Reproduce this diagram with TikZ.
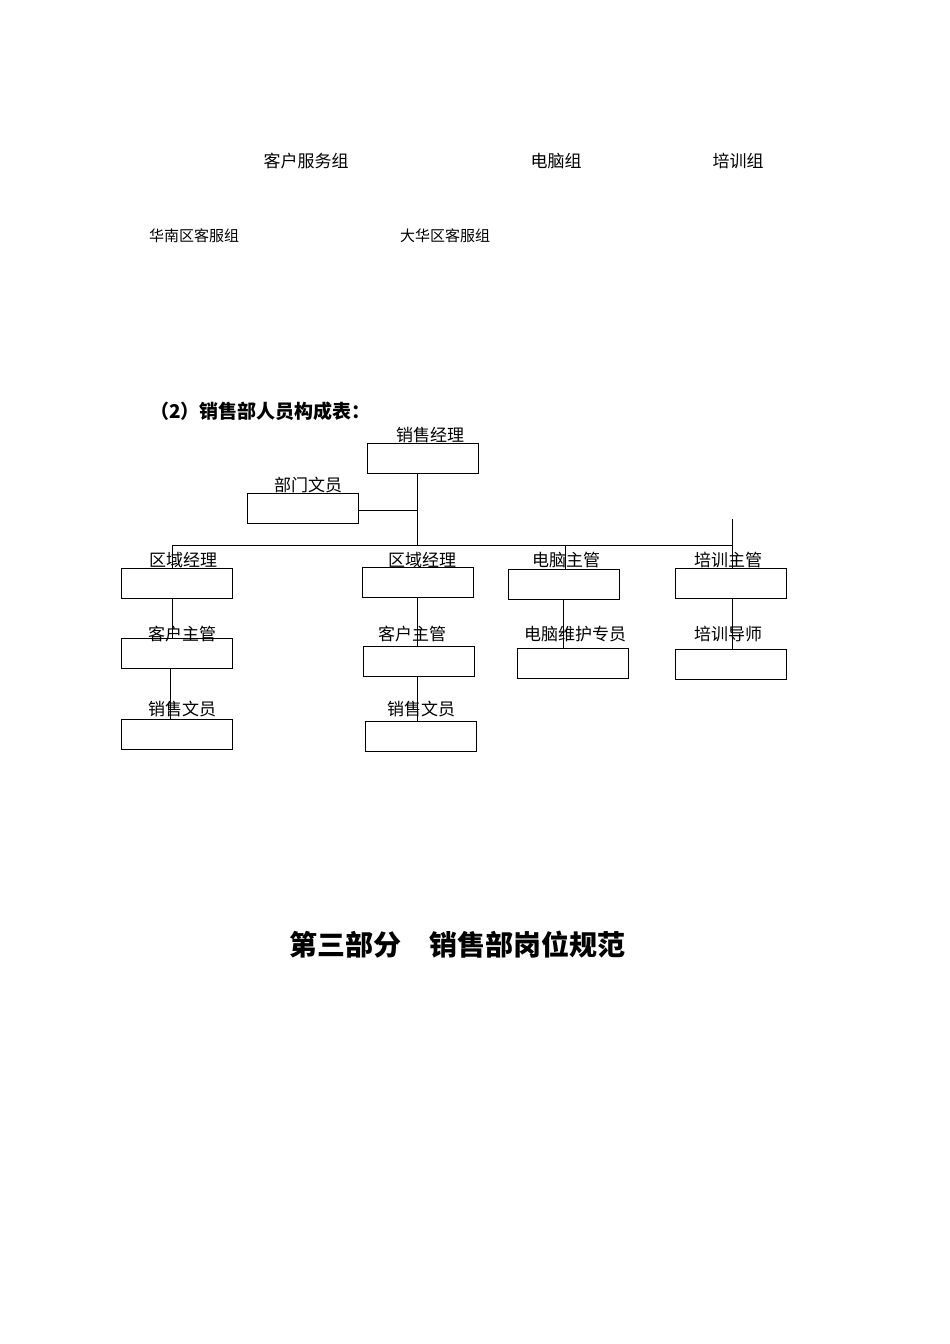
\documentclass[tikz,border=0pt]{standalone}
\usepackage{fontspec}
\setmainfont{Noto Sans CJK SC}
\usetikzlibrary{positioning}
\tikzset{
  post/.style={draw, minimum width=111pt, minimum height=30pt, inner sep=0pt},
  lbl/.style={font=\fontsize{17}{20}\selectfont, inner sep=0pt},
  small/.style={font=\fontsize{15}{18}\selectfont, inner sep=0pt},
  link/.style={line width=1pt}
}
\begin{document}
\begin{tikzpicture}[x=1pt,y=-1pt]
  \useasboundingbox (0,0) rectangle (950,1344);
  % leftover text from the previous chart
  \node[lbl] (kf) at (306,161) {客户服务组};
  \node[lbl] (dn) at (556,161) {电脑组};
  \node[lbl] (px) at (738,161) {培训组};
  \node[small] (hn) at (194,236) {华南区客服组};
  \node[small] (dh) at (445,236) {大华区客服组};
  \node[lbl, font=\fontsize{19}{22}\selectfont\bfseries, anchor=west] (head) at (150,411) {（2）销售部人员构成表：};

  % boxes
  \node[post] (mgr) at (422.5,458) {};
  \node[post] (clerk) at (303,508) {};
  \node[post] (ra1) at (176.5,583.5) {};
  \node[post] (ra2) at (418,582) {};
  \node[post] (pc) at (564,584.5) {};
  \node[post] (tr) at (730.5,583.5) {};
  \node[post] (cs1) at (176.5,653) {};
  \node[post] (cs2) at (419,661) {};
  \node[post] (pcm) at (572.5,663) {};
  \node[post] (trt) at (730.5,664) {};
  \node[post] (sc1) at (176.5,734) {};
  \node[post] (sc2) at (420.5,736) {};

  % labels
  \node[lbl] at (430,435) {销售经理};
  \node[lbl] at (308,485) {部门文员};
  \node[lbl] at (183,560) {区域经理};
  \node[lbl] at (422,560) {区域经理};
  \node[lbl] at (566,560) {电脑主管};
  \node[lbl] at (728,560) {培训主管};
  \node[lbl] at (182,634) {客户主管};
  \node[lbl] at (412,634) {客户主管};
  \node[lbl] at (575,634) {电脑维护专员};
  \node[lbl] at (728,634) {培训导师};
  \node[lbl] at (182,709) {销售文员};
  \node[lbl] at (421,709) {销售文员};

  % connectors
  \coordinate (hub) at (417,545);
  \coordinate (side) at (417,510);
  \coordinate (west) at (172,545);
  \coordinate (east) at (732,545);
  \coordinate (top) at (732,519);
  \draw[link] (417,473) -- (hub);
  \draw[link] (clerk.east |- side) -- (side);
  \draw[link] (west) -- (east) -- (top);
  \draw[link] (west) -- (west |- ra1.north);
  \draw[link] (565,545) -- (565,569);
  \draw[link] (east) -- (east |- tr.north);
  \draw[link] (172,599) -- (172,638);
  \draw[link] (417,597) -- (417,646);
  \draw[link] (563,600) -- (563,648);
  \draw[link] (732,599) -- (732,649);
  \draw[link] (170,668) -- (170,719);
  \draw[link] (417,676) -- (417,721);

  % section title
  \node[font=\fontsize{28}{32}\selectfont\bfseries, inner sep=0pt] (title) at (457,945) {第三部分\quad 销售部岗位规范};
\end{tikzpicture}
\end{document}
